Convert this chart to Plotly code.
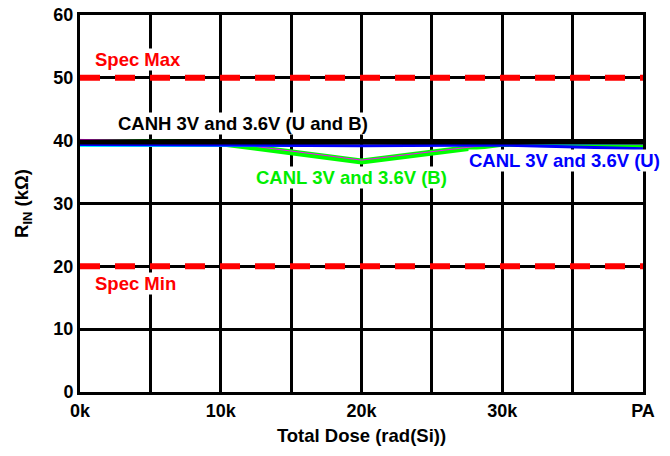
import plotly.graph_objects as go

dose = [0, 10, 20, 30, 40]
tick_vals = [0, 10, 20, 30, 40]
tick_text = ["0k", "10k", "20k", "30k", "PA"]
y_ticks = [0, 10, 20, 30, 40, 50, 60]

canl_3v_b = [39.8, 39.6, 36.7, 39.5, 39.3]
canl_36v_b = [40.2, 39.8, 36.9, 39.6, 39.4]
canl_3v_u = [39.4, 39.3, 39.2, 39.3, 38.7]
canl_36v_u = [39.1, 39.1, 39.1, 39.3, 39.5]
canh_all = [39.8, 39.8, 39.8, 39.8, 39.8]
spec_max = [50, 50, 50, 50, 50]
spec_min = [20, 20, 20, 20, 20]

FAM = "Liberation Sans, Arial, sans-serif"

fig = go.Figure()
fig.add_trace(go.Scatter(x=dose, y=spec_max, mode="lines", line=dict(color="#ff0000", width=6, dash="20px,15px")))
fig.add_trace(go.Scatter(x=dose, y=spec_min, mode="lines", line=dict(color="#ff0000", width=6, dash="20px,15px")))
fig.add_trace(go.Scatter(x=dose, y=canl_3v_b, mode="lines", line=dict(color="#00ff00", width=6)))
fig.add_trace(go.Scatter(x=dose, y=canl_36v_b, mode="lines", line=dict(color="#ff00ff", width=1)))
fig.add_trace(go.Scatter(x=dose, y=canl_36v_u, mode="lines", line=dict(color="#00ffff", width=1.5)))
fig.add_trace(go.Scatter(x=dose, y=canl_3v_u, mode="lines", line=dict(color="#0000ff", width=3)))
fig.add_trace(go.Scatter(x=dose, y=canh_all, mode="lines", line=dict(color="#000000", width=5)))

annotations = [
    dict(x=1.0, y=52.9, xanchor="left", text="<b>Spec Max</b>", font=dict(family=FAM, size=18.5, color="#ff0000")),
    dict(x=1.0, y=17.2, xanchor="left", text="<b>Spec Min</b>", font=dict(family=FAM, size=18.5, color="#ff0000")),
    dict(x=11.6, y=42.8, text="<b>CANH 3V and 3.6V (U and B)</b>", font=dict(family=FAM, size=18.5, color="black")),
    dict(x=19.3, y=34.2, text="<b>CANL 3V and 3.6V (B)</b>", font=dict(family=FAM, size=18.5, color="#00ee00")),
    dict(x=34.45, y=36.8, text="<b>CANL 3V and 3.6V (U)</b>", font=dict(family=FAM, size=18.5, color="#0000ff")),
]
for a in annotations:
    a.update(xref="x", yref="y", showarrow=False, bgcolor="white", borderpad=0)

fig.update_layout(
    width=670, height=456,
    margin=dict(l=80, r=27, t=15, b=64),
    paper_bgcolor="white", plot_bgcolor="white",
    showlegend=False,
    font=dict(family=FAM, size=18, color="black"),
    annotations=annotations,
    xaxis=dict(
        range=[0, 40], tickvals=tick_vals, ticktext=["<b>%s</b>" % t for t in tick_text],
        showgrid=True, gridcolor="black", gridwidth=3,
        minor=dict(dtick=5, tick0=0, showgrid=True, gridcolor="black", gridwidth=3),
        showline=True, linecolor="black", linewidth=3, mirror=True,
        zeroline=False, ticks="", tickfont=dict(size=18), automargin=False,
        ticklabeloverflow="allow",
        title=dict(text="<b>Total Dose (rad(Si))</b>", font=dict(size=18.5), standoff=10),
    ),
    yaxis=dict(
        range=[0, 60],
        tickvals=y_ticks,
        ticktext=["<b>%d</b>" % v for v in y_ticks],
        showgrid=True, gridcolor="black", gridwidth=3,
        showline=True, linecolor="black", linewidth=3, mirror=True,
        zeroline=False, ticks="", tickfont=dict(size=18), automargin=False,
        ticklabeloverflow="allow",
        title=dict(text="<b>R<sub>IN</sub> (kΩ)</b>", font=dict(size=18.5), standoff=20),
    ),
)

fig.write_html("out.html", config={"displayModeBar": False},
               post_script="document.body.style.margin='0';")
